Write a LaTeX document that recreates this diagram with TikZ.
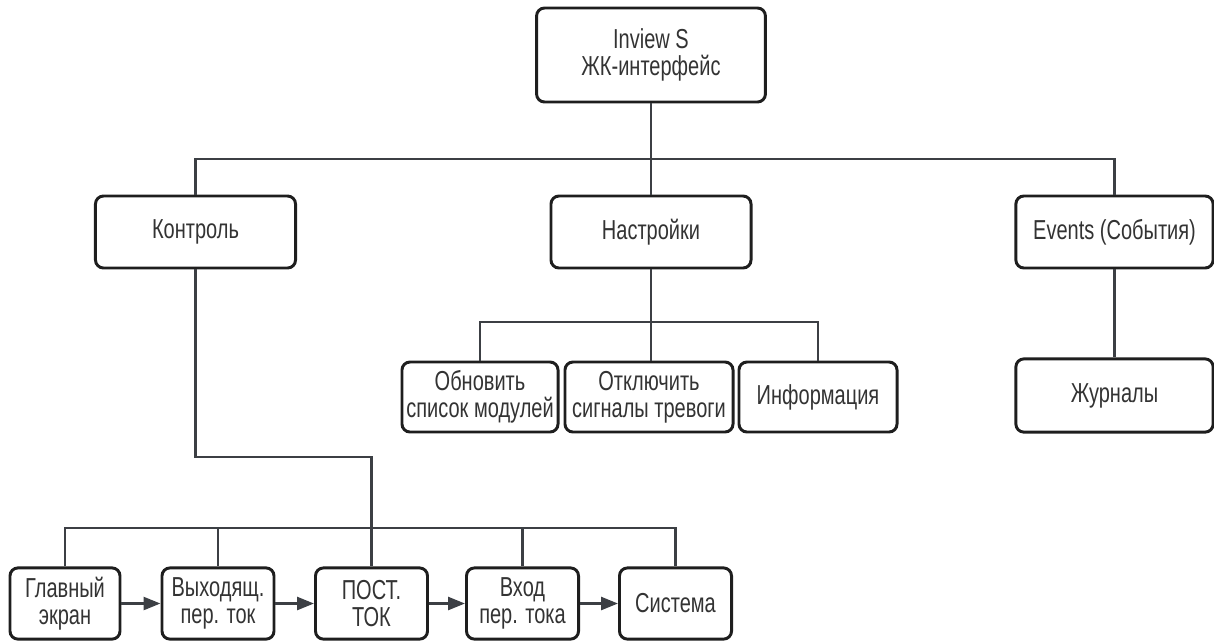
\documentclass[tikz,border=0pt]{standalone}
\usepackage{fontspec}
\setmainfont{Liberation Sans}[FakeStretch=0.73]
\usetikzlibrary{arrows.meta}
\definecolor{linegray}{HTML}{3C3F44}
\definecolor{boxline}{HTML}{1E1E1E}
\definecolor{textgray}{HTML}{333333}

\begin{document}
\begin{tikzpicture}[x=0.025cm, y=-0.025cm,
  box/.style={draw=boxline, line width=2.1pt, rounded corners=0.2cm, align=center,
    text=textgray, inner sep=0pt, font=\fontsize{19.5}{19.5}\selectfont},
  menu/.style={box, minimum width=5cm, minimum height=1.8cm},
  item/.style={box, minimum height=1.78cm, minimum width=2.8cm},
  link/.style={draw=linegray, line width=1.9pt},
  flow/.style={link, -{Triangle[length=0.42cm, width=0.32cm]}}]
\useasboundingbox (0,0) rectangle (1214,641);

% Draw the top box
\node[box, minimum width=5.72cm, minimum height=2.35cm] (lcd) at (651,55) {Inview S\\ЖК-интерфейс};

% Draw the menu boxes
\node[menu] (ctrl) at (195.5,232) {Контроль};
\node[menu] (sett) at (651,232) {Настройки};
\node[menu, minimum width=4.93cm] (evt) at (1114.5,232) {Events (События)};

% Draw the settings boxes
\node[box, minimum width=3.9cm, minimum height=1.75cm] (upd) at (480,397) {Обновить\\список модулей};
\node[box, minimum width=4.2cm, minimum height=1.75cm] (alarm) at (649,397) {Отключить\\сигналы тревоги};
\node[box, minimum width=3.95cm, minimum height=1.75cm] (info) at (818,397) {Информация};
\node[box, minimum width=4.93cm, minimum height=1.83cm] (log) at (1114.5,395.5) {Журналы};

% Draw the control screens
\node[item, minimum width=2.75cm] (home) at (65,603.5) {Главный\\экран};
\node[item] (out) at (218,603.5) {Выходящ.\\пер. ток};
\node[item] (dc) at (371.5,603.5) {ПОСТ.\\ТОК};
\node[item] (acin) at (522.5,603.5) {Вход\\пер. тока};
\node[item] (sys) at (675.5,603.5) {Система};

% Draw the lines from the top box
\coordinate (bus1) at (651,159);
\draw[link] (lcd.south) -- (bus1);
\draw[link] (ctrl.north) |- (bus1) -| (evt.north);
\draw[link] (bus1) -- (sett.north);

% Draw the lines below the settings
\coordinate (bus2) at (651,322);
\draw[link] (sett.south) -- (bus2);
\draw[link] (upd.north) |- (bus2) -| (info.north);
\draw[link] (bus2) -- (bus2 |- alarm.north);
\draw[link] (evt) -- (log);

% Draw the lines below the control box
\coordinate (bend) at (371.5,457);
\coordinate (bus3) at (371.5,528);
\draw[link] (ctrl.south) |- (bend) -- (dc.north);
\draw[link] (home.north) |- (bus3) -| (sys.north);
\foreach \n in {out, acin}
  \draw[link] (\n.north |- bus3) -- (\n.north);

% Draw the arrows between the screens
\foreach \a/\b in {home/out, out/dc, dc/acin, acin/sys}
  \draw[flow] (\a) -- (\b);
\end{tikzpicture}
\end{document}
